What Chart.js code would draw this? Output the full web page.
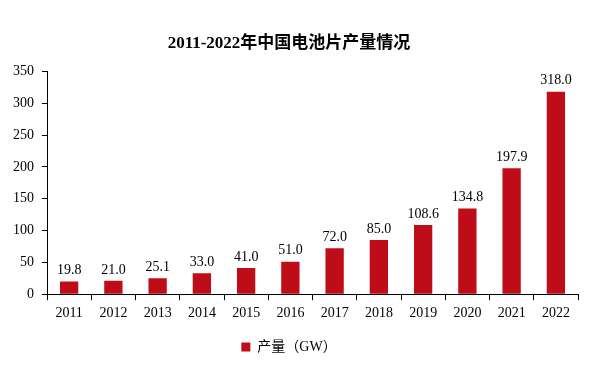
<!DOCTYPE html>
<html>
<head>
<meta charset="utf-8">
<script src="https://cdn.jsdelivr.net/npm/chart.js@4.4.0/dist/chart.umd.min.js"></script>
<style>
  html, body { margin: 0; padding: 0; background: #fff; }
  #wrap { width: 596px; height: 366px; }
</style>
</head>
<body>
<div id="wrap"><canvas id="output-chart"></canvas></div>
<script>
// Chart data
var years = ['2011', '2012', '2013', '2014', '2015', '2016', '2017', '2018', '2019', '2020', '2021', '2022'];
var output = [19.8, 21.0, 25.1, 33.0, 41.0, 51.0, 72.0, 85.0, 108.6, 134.8, 197.9, 318.0];
var yTicks = [0, 50, 100, 150, 200, 250, 300, 350];

var serif = "'Times New Roman', 'Liberation Serif', 'Noto Sans CJK SC', serif";
var barColor = '#be0c19';
var textColor = '#000000';

Chart.defaults.font.family = serif;
Chart.defaults.color = textColor;

// Value labels above each bar
const barLabels = {
    id: 'barLabels',
    afterDatasetsDraw(chart) {
        const ctx = chart.ctx;
        ctx.save();
        ctx.font = '14px ' + serif;
        ctx.fillStyle = textColor;
        ctx.textAlign = 'center';
        ctx.textBaseline = 'bottom';
        chart.getDatasetMeta(0).data.forEach(function (bar, i) {
            ctx.fillText(output[i].toFixed(1), bar.x, bar.y - 4);
        });
        ctx.restore();
    }
};

var chart = new Chart(document.getElementById('output-chart'), {
    type: 'bar',
    data: {
        labels: years,
        datasets: [{
            label: '产量（GW）',
            data: output,
            backgroundColor: barColor,
            borderWidth: 0,
            categoryPercentage: 0.9,
            barPercentage: 0.46
        }]
    },
    options: {
        responsive: true,
        maintainAspectRatio: false,
        animation: false,
        layout: { padding: { left: 0, right: 18, top: 13, bottom: 2 } },
        scales: {
            x: {
                grid: {
                    offset: true,
                    drawOnChartArea: false,
                    drawTicks: true,
                    tickLength: 6,
                    color: '#000'
                },
                border: { color: '#000', width: 1 },
                ticks: { font: { size: 14 }, color: textColor, padding: 5 }
            },
            y: {
                min: 0,
                max: 350,
                afterBuildTicks: function (scale) {
                    scale.ticks = yTicks.map(function (v) { return { value: v }; });
                },
                afterFit: function (scale) { scale.width = 47; },
                grid: {
                    drawOnChartArea: false,
                    drawTicks: true,
                    tickLength: 5,
                    color: '#000'
                },
                border: { color: '#000', width: 1 },
                ticks: { font: { size: 14 }, color: textColor, padding: 8 }
            }
        },
        plugins: {
            title: {
                display: true,
                text: '2011-2022年中国电池片产量情况',
                font: { size: 17, weight: 'bold' },
                color: textColor,
                padding: { top: 20, bottom: 18 }
            },
            legend: {
                position: 'bottom',
                labels: {
                    boxWidth: 9,
                    boxHeight: 9,
                    font: { size: 14 },
                    color: textColor,
                    padding: 13
                }
            },
            tooltip: { enabled: false }
        }
    },
    plugins: [barLabels]
});
</script>
</body>
</html>
